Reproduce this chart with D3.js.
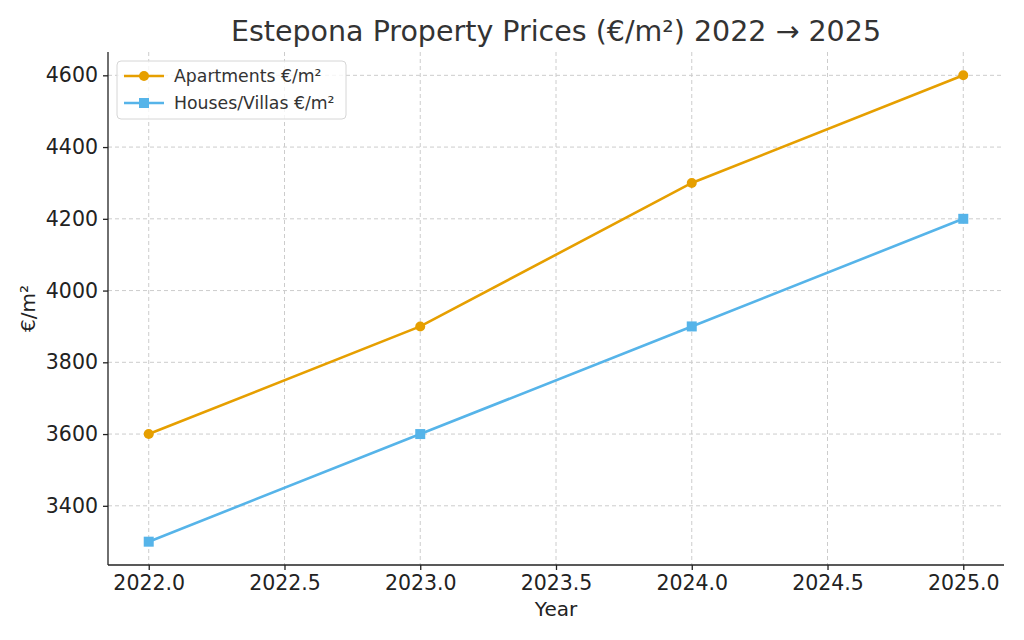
<!DOCTYPE html>
<html>
<head>
<meta charset="utf-8">
<script src="https://cdn.jsdelivr.net/npm/d3@7"></script>
<style>
  body { margin: 0; background: #fff; }
  text { font-family: "DejaVu Sans", sans-serif; }
</style>
</head>
<body>
<svg width="1024" height="640"></svg>
<script>
  // data
  const years = [2022, 2023, 2024, 2025];
  const apartments = [3600, 3900, 4300, 4600];
  const houses = [3300, 3600, 3900, 4200];
  const xTicks = [2022.0, 2022.5, 2023.0, 2023.5, 2024.0, 2024.5, 2025.0];
  const yTicks = [3400, 3600, 3800, 4000, 4200, 4400, 4600];
  const seriesNames = ["Apartments €/m²", "Houses/Villas €/m²"];

  const svg = d3.select("svg");
  const margin = { left: 108, right: 20, top: 52, bottom: 75 };
  const width = 1024 - margin.left - margin.right,
        height = 640 - margin.top - margin.bottom;

  const g = svg.append("g").attr("transform", "translate(" + margin.left + "," + margin.top + ")");

  // matplotlib style 5% padding
  const xPad = (2025 - 2022) * 0.05;
  const yMin = d3.min(houses), yMax = d3.max(apartments);
  const yPad = (yMax - yMin) * 0.05;

  const x = d3.scaleLinear().domain([2022 - xPad, 2025 + xPad]).range([0, width]);
  const y = d3.scaleLinear().domain([yMin - yPad, yMax + yPad]).range([height, 0]);

  // grid
  g.append("g").selectAll("line").data(xTicks).enter().append("line")
    .attr("x1", d => x(d)).attr("x2", d => x(d))
    .attr("y1", 0).attr("y2", height)
    .attr("stroke", "#cccccc").attr("stroke-width", 1).attr("stroke-dasharray", "4,3");
  g.append("g").selectAll("line").data(yTicks).enter().append("line")
    .attr("y1", d => y(d)).attr("y2", d => y(d))
    .attr("x1", 0).attr("x2", width)
    .attr("stroke", "#cccccc").attr("stroke-width", 1).attr("stroke-dasharray", "4,3");

  // axes
  const xAxis = g.append("g").attr("transform", "translate(0," + height + ")")
    .call(d3.axisBottom(x).tickValues(xTicks).tickFormat(d3.format(".1f")).tickSize(5).tickPadding(5));
  const yAxis = g.append("g")
    .call(d3.axisLeft(y).tickValues(yTicks).tickFormat(d3.format("d")).tickSize(5).tickPadding(5));
  [xAxis, yAxis].forEach(a => {
    a.select(".domain").remove();
    a.selectAll(".tick line").attr("stroke", "#222").attr("stroke-width", 1.3);
    a.selectAll(".tick text").attr("fill", "#222").style("font-size", "20.5px")
      .style("font-family", "DejaVu Sans");
  });
  // left and bottom spines only
  g.append("line").attr("x1", 0).attr("x2", 0).attr("y1", 0).attr("y2", height)
    .attr("stroke", "#222").attr("stroke-width", 1.3);
  g.append("line").attr("x1", 0).attr("x2", width).attr("y1", height).attr("y2", height)
    .attr("stroke", "#222").attr("stroke-width", 1.3);

  const colors = ["#E69F00", "#56B4E9"];
  const allSeries = [apartments, houses];

  const line = d3.line().x((d, i) => x(years[i])).y(d => y(d));

  allSeries.forEach((s, k) => {
    g.append("path").datum(s)
      .attr("fill", "none").attr("stroke", colors[k]).attr("stroke-width", 2.6)
      .attr("d", line);
    if (k === 0) {
      g.selectAll(".pt" + k).data(s).enter().append("circle")
        .attr("cx", (d, i) => x(years[i])).attr("cy", d => y(d))
        .attr("r", 5).attr("fill", colors[k]);
    } else {
      g.selectAll(".pt" + k).data(s).enter().append("rect")
        .attr("x", (d, i) => x(years[i]) - 5).attr("y", d => y(d) - 5)
        .attr("width", 10).attr("height", 10).attr("fill", colors[k]);
    }
  });

  // legend
  const lg = g.append("g").attr("transform", "translate(9,9)");
  lg.append("rect").attr("width", 229).attr("height", 58).attr("rx", 4)
    .attr("fill", "#fff").attr("fill-opacity", 0.8)
    .attr("stroke", "#d6d6d6").attr("stroke-width", 1);
  seriesNames.forEach((name, k) => {
    const row = lg.append("g").attr("transform", "translate(0," + (15 + k * 27) + ")");
    row.append("line").attr("x1", 7).attr("x2", 47).attr("y1", 0).attr("y2", 0)
      .attr("stroke", colors[k]).attr("stroke-width", 2.6);
    if (k === 0) row.append("circle").attr("cx", 27).attr("cy", 0).attr("r", 5).attr("fill", colors[k]);
    else row.append("rect").attr("x", 22).attr("y", -5).attr("width", 10).attr("height", 10).attr("fill", colors[k]);
    row.append("text").attr("x", 57).attr("y", 6).text(name)
      .attr("fill", "#333").style("font-size", "17.3px");
  });

  // title & labels
  svg.append("text").attr("x", margin.left + width / 2).attr("y", 41)
    .attr("text-anchor", "middle").attr("fill", "#333").style("font-size", "28.5px")
    .text("Estepona Property Prices (€/m²) 2022 → 2025");
  svg.append("text").attr("x", margin.left + width / 2).attr("y", 616)
    .attr("text-anchor", "middle").attr("fill", "#222").style("font-size", "20px")
    .text("Year");
  svg.append("text").attr("transform", "translate(35," + (margin.top + height / 2) + ") rotate(-90)")
    .attr("text-anchor", "middle").attr("fill", "#222").style("font-size", "20px")
    .text("€/m²");
</script>
</body>
</html>
